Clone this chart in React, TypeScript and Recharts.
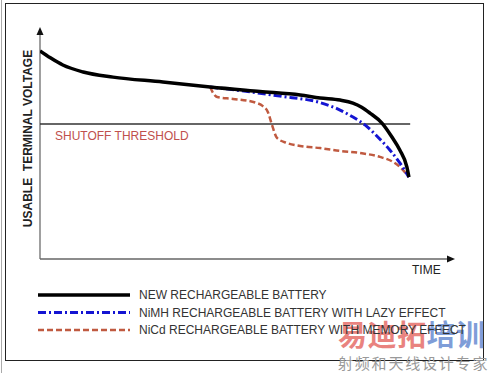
import React from 'react';
import { LineChart, Line, XAxis, YAxis, ReferenceLine, ReferenceDot, Legend } from 'recharts';

// time (0..100 along the time axis) and usable terminal voltage (0..100 along the voltage axis)
const newTime = [0, 2.5, 5.5, 10.4, 17.6, 29.6, 41, 53, 62.7, 67.5, 72.3, 75.4, 77.5, 79.5, 82.4, 84.8, 86.7, 88.4, 88.9];
const newVolt = [89.7, 86.7, 83.6, 80.6, 78.4, 76.3, 74.1, 72.2, 70.7, 69.4, 68.5, 67.2, 65.4, 62.9, 58.6, 52.6, 47, 39.7, 35.3];

const nimhTime = [41, 48.2, 57.8, 67.5, 72.3, 75.4, 78.3, 81.4, 84.3, 86.7, 88.9];
const nimhVolt = [74.1, 72.6, 70.2, 67.4, 64.2, 61.2, 57.8, 52.6, 47, 41.4, 35.3];

const nicdTime = [41, 41.7, 42.7, 46.5, 52.3, 53.7, 54.9, 55.9, 57.1, 59.5, 62.7, 67.5, 72.3, 77.1, 81.9, 85.1, 86.7, 88.9];
const nicdVolt = [74.1, 71.6, 69.8, 69, 67.2, 65.9, 63.4, 57.8, 52.2, 50, 48.7, 47.8, 46.6, 45.7, 44, 41.8, 39.7, 35.3];

const thresholdVolt = 58.2;
const thresholdEnd = 89.2;

const seriesNames = [
  'NEW RECHARGEABLE BATTERY',
  'NiMH RECHARGEABLE BATTERY WITH LAZY EFFECT',
  'NiCd RECHARGEABLE BATTERY WITH MEMORY EFFECT',
];
const seriesColors = ['#000000', '#1414d2', '#c05a40'];
const seriesDash = ['', '8 3 2 3', '6 3'];
const seriesWidth = [3.5, 3, 2.5];

const yLabel = 'USABLE  TERMINAL VOLTAGE';
const xLabel = 'TIME';
const thresholdLabel = 'SHUTOFF THRESHOLD';
const watermarkRed = '易迪拓';
const watermarkBlue = '培训';
const watermarkSub = '射频和天线设计专家';

const zip = (t: number[], v: number[]) => t.map((x, i) => ({ t: x, v: v[i] }));
const newData = zip(newTime, newVolt);
const nimhData = zip(nimhTime, nimhVolt);
const nicdData = zip(nicdTime, nicdVolt);

const FONT = 'Arial, "Liberation Sans", sans-serif';
const LEGEND_H = 70;

const UpArrow = (p: any) => (
  <path d={`M${p.cx},${p.cy} L${p.cx - 3.5},${p.cy + 8} L${p.cx + 3.5},${p.cy + 8} Z`} fill="#111" />
);
const RightArrow = (p: any) => (
  <path d={`M${p.cx},${p.cy} L${p.cx - 8},${p.cy - 3.5} L${p.cx - 8},${p.cy + 3.5} Z`} fill="#111" />
);

const LegendContent = (props: any) => {
  const payload = props.payload || [];
  return (
    <svg width={492} height={LEGEND_H} style={{ display: 'block' }}>
      {payload.map((entry: any, i: number) => {
        const y = 15 + i * 17.5;
        return (
          <g key={i}>
            <line
              x1={38}
              x2={130}
              y1={y}
              y2={y}
              stroke={seriesColors[i]}
              strokeWidth={seriesWidth[i]}
              strokeDasharray={seriesDash[i] || undefined}
            />
            <text x={139} y={y + 4.3} fontFamily={FONT} fontSize={12} fill="#333">
              {entry.value}
            </text>
          </g>
        );
      })}
    </svg>
  );
};

export default function App() {
  return (
    <div style={{ position: 'absolute', left: 0, top: 0, width: 492, height: 373, background: '#fff', overflow: 'hidden' }}>
      <div style={{ position: 'absolute', left: 1, top: 0, width: 1, height: 373, background: '#aaa' }} />
      <div
        style={{
          position: 'absolute',
          left: 5,
          top: 3,
          width: 477,
          height: 356,
          border: '1.5px solid #222',
        }}
      />
      <div
        style={{
          position: 'absolute',
          left: 338,
          top: 317,
          fontFamily: '"Noto Sans CJK SC", sans-serif',
          fontWeight: 'bold',
          fontSize: 29,
          lineHeight: '32px',
          letterSpacing: 0.5,
          opacity: 0.7,
          whiteSpace: 'nowrap',
        }}
      >
        <span style={{ color: '#e0504a' }}>{watermarkRed}</span>
        <span style={{ color: '#4a74c8' }}>{watermarkBlue}</span>
      </div>
      <div style={{ position: 'absolute', left: 0, top: 0 }}>
        <LineChart width={492} height={373} margin={{ top: 27, right: 37, bottom: 114 - LEGEND_H, left: 40 }}>
          <XAxis dataKey="t" type="number" domain={[0, 100]} hide allowDataOverflow />
          <YAxis type="number" domain={[0, 100]} hide allowDataOverflow />
          <ReferenceLine
            segment={[{ x: 0, y: 0 }, { x: 0, y: 98 }]}
            stroke="#888"
            strokeWidth={1.6}
            label={() => (
              <text
                x={32}
                y={138.5}
                transform="rotate(-90 32 138.5)"
                textAnchor="middle"
                fontFamily={FONT}
                fontWeight="bold"
                fontSize={12}
                fill="#222"
                style={{ whiteSpace: 'pre' }}
              >
                {yLabel}
              </text>
            )}
          />
          <ReferenceLine
            segment={[{ x: 0, y: 0 }, { x: 98.5, y: 0 }]}
            stroke="#666"
            strokeWidth={1.6}
            label={() => (
              <text x={412} y={274} fontFamily={FONT} fontSize={12} fill="#222">
                {xLabel}
              </text>
            )}
          />
          <ReferenceDot x={0} y={100} r={4} shape={UpArrow} ifOverflow="visible" />
          <ReferenceDot x={100} y={0} r={4} shape={RightArrow} ifOverflow="visible" />
          <ReferenceLine
            segment={[{ x: 0, y: thresholdVolt }, { x: thresholdEnd, y: thresholdVolt }]}
            stroke="#333"
            strokeWidth={1.3}
            label={() => (
              <text x={55} y={140} fontFamily={FONT} fontSize={12} fill="#c0504d">
                {thresholdLabel}
              </text>
            )}
          />
          <Line
            data={nicdData}
            dataKey="v"
            name={seriesNames[2]}
            type="monotone"
            stroke={seriesColors[2]}
            strokeWidth={seriesWidth[2]}
            strokeDasharray={seriesDash[2]}
            dot={false}
            isAnimationActive={false}
          />
          <Line
            data={nimhData}
            dataKey="v"
            name={seriesNames[1]}
            type="monotone"
            stroke={seriesColors[1]}
            strokeWidth={seriesWidth[1]}
            strokeDasharray={seriesDash[1]}
            dot={false}
            isAnimationActive={false}
          />
          <Line
            data={newData}
            dataKey="v"
            name={seriesNames[0]}
            type="monotone"
            stroke={seriesColors[0]}
            strokeWidth={seriesWidth[0]}
            dot={false}
            isAnimationActive={false}
          />
          <Legend
            content={(p: any) => {
              const order = [...(p.payload || [])].sort(
                (a: any, b: any) => seriesNames.indexOf(a.value) - seriesNames.indexOf(b.value)
              );
              return <LegendContent payload={order} />;
            }}
            wrapperStyle={{ position: 'absolute', left: 0, top: 280, width: 492, height: LEGEND_H }}
          />
        </LineChart>
      </div>
      <div
        style={{
          position: 'absolute',
          left: 338,
          top: 354,
          fontFamily: '"Noto Sans CJK SC", serif',
          fontSize: 15,
          lineHeight: '17px',
          letterSpacing: 1.8,
          color: '#999',
          whiteSpace: 'nowrap',
        }}
      >
        {watermarkSub}
      </div>
    </div>
  );
}
